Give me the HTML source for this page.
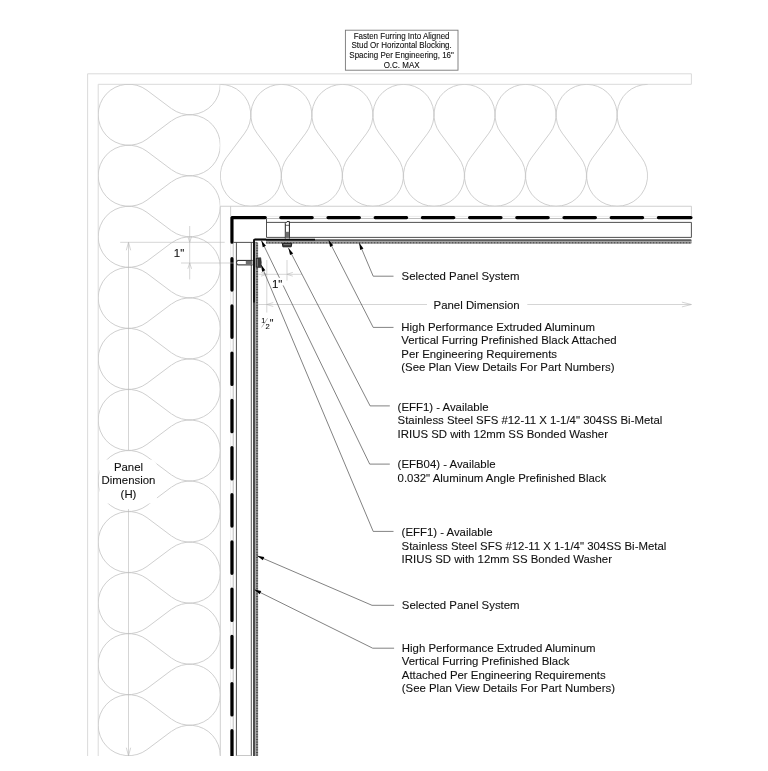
<!DOCTYPE html><html><head><meta charset="utf-8"><style>html,body{margin:0;padding:0;background:#fff;width:768px;height:771px;overflow:hidden}svg{display:block;will-change:transform}text{font-family:"Liberation Sans",sans-serif;fill:#111;stroke:#111;stroke-width:0.1}</style></head><body><svg width="768" height="771" viewBox="0 0 768 771"><defs><clipPath id="ct"><rect x="220.3" y="84.3" width="427.35" height="122"/></clipPath><clipPath id="cb"><rect x="0" y="0" width="768" height="756"/></clipPath><clipPath id="cl"><rect x="98.2" y="84.2" width="122.1" height="671.5"/></clipPath><pattern id="hdots" width="3" height="1.5" patternUnits="userSpaceOnUse" x="266" y="242"><rect width="3" height="1.5" fill="#8e8e8e"/><rect width="1.2" height="1.5" fill="#5a5a5a"/></pattern><pattern id="vdots" width="2.1" height="2.6" patternUnits="userSpaceOnUse" x="256" y="242.4"><rect width="2.1" height="2.6" fill="#909090"/><rect width="2.1" height="1" fill="#4a4a4a"/></pattern></defs><rect width="768" height="771" fill="#fff"/><g fill="none" stroke="#d6d6d6" stroke-width="0.9"><path d="M87.6 756V73.8H691.4V84.3M98.2 756V84.3H691.4"/></g><g fill="none" stroke="#c6c6c6" stroke-width="0.85"><path clip-path="url(#ct)" d="M183.65 133.15A30.5 30.5 0 1 0 134.85 133.15M183.65 133.15L165.35 157.55M134.85 133.15L153.15 157.55M214.15 157.45A30.5 30.5 0 1 1 165.35 157.45M244.7 133.15A30.5 30.5 0 1 0 195.9 133.15M244.7 133.15L226.4 157.55M195.9 133.15L214.2 157.55M275.2 157.45A30.5 30.5 0 1 1 226.4 157.45M305.75 133.15A30.5 30.5 0 1 0 256.95 133.15M305.75 133.15L287.45 157.55M256.95 133.15L275.25 157.55M336.25 157.45A30.5 30.5 0 1 1 287.45 157.45M366.8 133.15A30.5 30.5 0 1 0 318 133.15M366.8 133.15L348.5 157.55M318 133.15L336.3 157.55M397.3 157.45A30.5 30.5 0 1 1 348.5 157.45M427.85 133.15A30.5 30.5 0 1 0 379.05 133.15M427.85 133.15L409.55 157.55M379.05 133.15L397.35 157.55M458.35 157.45A30.5 30.5 0 1 1 409.55 157.45M488.9 133.15A30.5 30.5 0 1 0 440.1 133.15M488.9 133.15L470.6 157.55M440.1 133.15L458.4 157.55M519.4 157.45A30.5 30.5 0 1 1 470.6 157.45M549.95 133.15A30.5 30.5 0 1 0 501.15 133.15M549.95 133.15L531.65 157.55M501.15 133.15L519.45 157.55M580.45 157.45A30.5 30.5 0 1 1 531.65 157.45M611 133.15A30.5 30.5 0 1 0 562.2 133.15M611 133.15L592.7 157.55M562.2 133.15L580.5 157.55M641.5 157.45A30.5 30.5 0 1 1 592.7 157.45M672.05 133.15A30.5 30.5 0 1 0 623.25 133.15M672.05 133.15L653.75 157.55M623.25 133.15L641.55 157.55M702.55 157.45A30.5 30.5 0 1 1 653.75 157.45M733.1 133.15A30.5 30.5 0 1 0 684.3 133.15M733.1 133.15L714.8 157.55M684.3 133.15L702.6 157.55M763.6 157.45A30.5 30.5 0 1 1 714.8 157.45M794.15 133.15A30.5 30.5 0 1 0 745.35 133.15M794.15 133.15L775.85 157.55M745.35 133.15L763.65 157.55M824.65 157.45A30.5 30.5 0 1 1 775.85 157.45"/><path clip-path="url(#cl)" d="M147 29.25A30.5 30.5 0 1 0 147 78.05M147 78.05L171.4 59.75M147 29.25L171.4 47.55M171.5 -1.25A30.5 30.5 0 1 1 171.5 47.55M147 90.3A30.5 30.5 0 1 0 147 139.1M147 139.1L171.4 120.8M147 90.3L171.4 108.6M171.5 59.8A30.5 30.5 0 1 1 171.5 108.6M147 151.35A30.5 30.5 0 1 0 147 200.15M147 200.15L171.4 181.85M147 151.35L171.4 169.65M171.5 120.85A30.5 30.5 0 1 1 171.5 169.65M147 212.4A30.5 30.5 0 1 0 147 261.2M147 261.2L171.4 242.9M147 212.4L171.4 230.7M171.5 181.9A30.5 30.5 0 1 1 171.5 230.7M147 273.45A30.5 30.5 0 1 0 147 322.25M147 322.25L171.4 303.95M147 273.45L171.4 291.75M171.5 242.95A30.5 30.5 0 1 1 171.5 291.75M147 334.5A30.5 30.5 0 1 0 147 383.3M147 383.3L171.4 365M147 334.5L171.4 352.8M171.5 304A30.5 30.5 0 1 1 171.5 352.8M147 395.55A30.5 30.5 0 1 0 147 444.35M147 444.35L171.4 426.05M147 395.55L171.4 413.85M171.5 365.05A30.5 30.5 0 1 1 171.5 413.85M147 456.6A30.5 30.5 0 1 0 147 505.4M147 505.4L171.4 487.1M147 456.6L171.4 474.9M171.5 426.1A30.5 30.5 0 1 1 171.5 474.9M147 517.65A30.5 30.5 0 1 0 147 566.45M147 566.45L171.4 548.15M147 517.65L171.4 535.95M171.5 487.15A30.5 30.5 0 1 1 171.5 535.95M147 578.7A30.5 30.5 0 1 0 147 627.5M147 627.5L171.4 609.2M147 578.7L171.4 597M171.5 548.2A30.5 30.5 0 1 1 171.5 597M147 639.75A30.5 30.5 0 1 0 147 688.55M147 688.55L171.4 670.25M147 639.75L171.4 658.05M171.5 609.25A30.5 30.5 0 1 1 171.5 658.05M147 700.8A30.5 30.5 0 1 0 147 749.6M147 749.6L171.4 731.3M147 700.8L171.4 719.1M171.5 670.3A30.5 30.5 0 1 1 171.5 719.1M147 761.85A30.5 30.5 0 1 0 147 810.65M147 810.65L171.4 792.35M147 761.85L171.4 780.15M171.5 731.35A30.5 30.5 0 1 1 171.5 780.15M147 822.9A30.5 30.5 0 1 0 147 871.7M147 871.7L171.4 853.4M147 822.9L171.4 841.2M171.5 792.4A30.5 30.5 0 1 1 171.5 841.2"/><path d="M220.3 756V206.25H691.4V216M230.6 206.25V216"/></g><rect x="99.5" y="459.5" width="58" height="44" rx="8" fill="#fff"/><g clip-path="url(#cb)"><g fill="none" stroke="#909090" stroke-width="0.6"><path d="M266 218.5H691M233.2 243V756"/><path d="M266 216.4H691M230.7 243V756" stroke="#d8d8d8" stroke-width="0.5"/></g><g fill="none" stroke="#000" stroke-width="3.2" stroke-linecap="round"><path d="M280.8 217.55H312.2M328 217.55H359.4M375.2 217.55H406.6M422.4 217.55H453.8M469.6 217.55H501M516.8 217.55H548.2M564 217.55H595.4M611.2 217.55H642.6M658.4 217.55H691M231.95 258.7V290.1M231.95 305.9V337.3M231.95 353.1V384.5M231.95 400.3V431.7M231.95 447.5V478.9M231.95 494.7V526.1M231.95 541.9V573.3M231.95 589.1V620.5M231.95 636.3V667.7M231.95 683.5V714.9M231.95 730.7V760"/><path d="M265.3 217.55H231.95V242.2" stroke-linecap="round" stroke-linejoin="round"/></g><g fill="none" stroke="#3c3c3c" stroke-width="0.9"><path d="M266.5 219V237.4H691.4V222.4H266.5"/><path d="M233.4 242.4H256.9M236.4 242.4V756M251.3 242.4V756"/><path d="M236.4 755.6H251.3" stroke="#bbb"/></g><rect x="266" y="239.1" width="425.4" height="4.4" fill="#888" rx="0.8"/><rect x="266" y="239.9" width="425.4" height="1.1" fill="#5c5c5c"/><rect x="266" y="241" width="425.4" height="0.9" fill="#a8a8a8"/><rect x="266" y="242" width="425.4" height="1.5" fill="url(#hdots)"/><rect x="256" y="242.4" width="2.1" height="513.6" fill="url(#vdots)"/><rect x="254.9" y="242.4" width="1.1" height="513.6" fill="#aaa"/><path d="M254 760V240.4Q254 239.45 255 239.45H266" fill="none" stroke="#3a3a3a" stroke-width="1.8"/><path d="M254 302.5V240.6Q254 239.65 255 239.65H315" fill="none" stroke="#0a0a0a" stroke-width="1.7"/></g><g stroke="#1e1e1e" stroke-width="1" fill="#fff"><path d="M285.3 238.6V223.4L287 221.6H289.4V238.6" /><path d="M285.6 225.3H289.2" stroke-width="0.7"/><rect x="285.6" y="231.8" width="3.6" height="6.6" fill="#6e6e6e" stroke="none"/><path d="M282.3 243.3H291.8L291.2 246.8H282.9Z" fill="#3a3a3a"/><path d="M283.5 244.6H290.6" stroke="#9a9a9a" stroke-width="0.7"/><path d="M252.6 260.4H237.4Q235.6 262.6 237.4 264.9H252.6"/><rect x="245.8" y="260.8" width="6.6" height="3.8" fill="#6e6e6e" stroke="none"/><path d="M256.2 258.1L260.7 257.7L261.3 262.5L260.7 267.6L256.2 267.3Z" fill="#3a3a3a" stroke-width="0.6"/><path d="M257.4 259V266.6" stroke="#9a9a9a" stroke-width="0.7"/></g><g fill="none" stroke="#b8b8b8" stroke-width="0.6"><path d="M120.2 242.3H224.7M181 263H234M189.7 226V279.4M128.5 242.3V450M128.5 509V755.7"/><path d="M187.8 236.5L189.7 242.3L191.6 236.5M187.8 268.8L189.7 263L191.6 268.8"/><path d="M126.3 250.3L128.5 242.3L130.7 250.3M126.3 747.7L128.5 755.7L130.7 747.7"/><path d="M266.8 260V312.5M287 260V280.6M258.2 274.3H302M258.2 304.5H427M527.3 304.5H691.4"/><path d="M261 272.4L266.8 274.3L261 276.2M292.8 272.4L287 274.3L292.8 276.2M273.3 302.5L266.8 304.5L273.3 306.5M681.9 302.1L691.4 304.5L681.9 306.9"/></g><g fill="none" stroke="#585858" stroke-width="0.75"><path d="M359.1 242.8L373.2 276.2H393.5"/><path d="M328.5 239.9L373.2 327.4H393.5"/><path d="M288.4 248L370.1 405.9H389.8"/><path d="M261.3 240.3L369.7 464.1H389.8"/><path d="M261 264.6L373.2 531.4H393.5"/><path d="M257.1 555.8L372 605.3H394.1"/><path d="M254.2 589.5L372.7 648.2H394.1"/></g><g fill="#000"><path d="M359.1 242.8L360.21 249.93L363.43 248.57Z"/><path d="M328.5 239.9L330.13 246.93L333.24 245.34Z"/><path d="M288.4 248L290.06 255.02L293.17 253.41Z"/><path d="M261.3 240.3L262.78 247.36L265.93 245.84Z"/><path d="M261 264.6L262.1 271.73L265.33 270.37Z"/><path d="M257.1 555.8L262.84 560.18L264.22 556.96Z"/><path d="M254.2 589.5L259.7 594.18L261.25 591.04Z"/></g><rect x="271" y="277.8" width="15" height="7.6" fill="#fff"/><rect x="345.4" y="30.2" width="112.6" height="40" fill="#fff" stroke="#777" stroke-width="0.9"/><g font-size="8" text-anchor="middle"><text transform="matrix(1 0 0 1.08 401.6 38.8)">Fasten Furring Into Aligned</text><text transform="matrix(1 0 0 1.08 401.6 48.4)">Stud Or Horizontal Blocking.</text><text transform="matrix(1 0 0 1.08 401.6 58)">Spacing Per Engineering, 16&quot;</text><text transform="matrix(1 0 0 1.08 401.6 67.6)">O.C. MAX</text></g><g font-size="11.4"><text transform="matrix(1 0 0 1.0 401.6 279.8)">Selected Panel System</text><text transform="matrix(1 0 0 1.0 433.6 308.75)">Panel Dimension</text><text transform="matrix(1 0 0 1.0 401.3 330.5)">High Performance Extruded Aluminum</text><text transform="matrix(1 0 0 1.0 401.3 344.1)">Vertical Furring Prefinished Black Attached</text><text transform="matrix(1 0 0 1.0 401.3 357.7)">Per Engineering Requirements</text><text transform="matrix(1 0 0 1.0 401.3 371.3)">(See Plan View Details For Part Numbers)</text><text transform="matrix(1 0 0 1.0 397.6 410.7)">(EFF1) - Available</text><text transform="matrix(1 0 0 1.0 397.6 424.3)">Stainless Steel SFS #12-11 X 1-1/4&quot; 304SS Bi-Metal</text><text transform="matrix(1 0 0 1.0 397.6 437.9)">IRIUS SD with 12mm SS Bonded Washer</text><text transform="matrix(1 0 0 1.0 397.6 468)">(EFB04) - Available</text><text transform="matrix(1 0 0 1.0 397.6 481.6)">0.032&quot; Aluminum Angle Prefinished Black</text><text transform="matrix(1 0 0 1.0 401.6 535.9)">(EFF1) - Available</text><text transform="matrix(1 0 0 1.0 401.6 549.5)">Stainless Steel SFS #12-11 X 1-1/4&quot; 304SS Bi-Metal</text><text transform="matrix(1 0 0 1.0 401.6 563.1)">IRIUS SD with 12mm SS Bonded Washer</text><text transform="matrix(1 0 0 1.0 401.8 608.5)">Selected Panel System</text><text transform="matrix(1 0 0 1.0 401.8 651.6)">High Performance Extruded Aluminum</text><text transform="matrix(1 0 0 1.0 401.8 665.2)">Vertical Furring Prefinished Black</text><text transform="matrix(1 0 0 1.0 401.8 678.8)">Attached Per Engineering Requirements</text><text transform="matrix(1 0 0 1.0 401.8 692.4)">(See Plan View Details For Part Numbers)</text></g><g font-size="11.4" text-anchor="middle"><text transform="matrix(1 0 0 1.0 128.5 470.8)">Panel</text><text transform="matrix(1 0 0 1.0 128.5 484.3)">Dimension</text><text transform="matrix(1 0 0 1.0 128.5 497.8)">(H)</text><text transform="matrix(1 0 0 1.0 179 256.7)">1&quot;</text><text transform="matrix(1 0 0 1.0 277.2 288)">1&quot;</text></g><g font-size="7.6"><text transform="matrix(1 0 0 1.0 261.3 322.7)">1</text><text transform="matrix(1 0 0 1.0 265.6 328.9)">2</text></g><text transform="matrix(1 0 0 1.0 269.8 326.8)" font-size="10.5">&quot;</text><path d="M261.6 327.4L267.6 318.2" stroke="#999" stroke-width="0.7"/></svg></body></html>
